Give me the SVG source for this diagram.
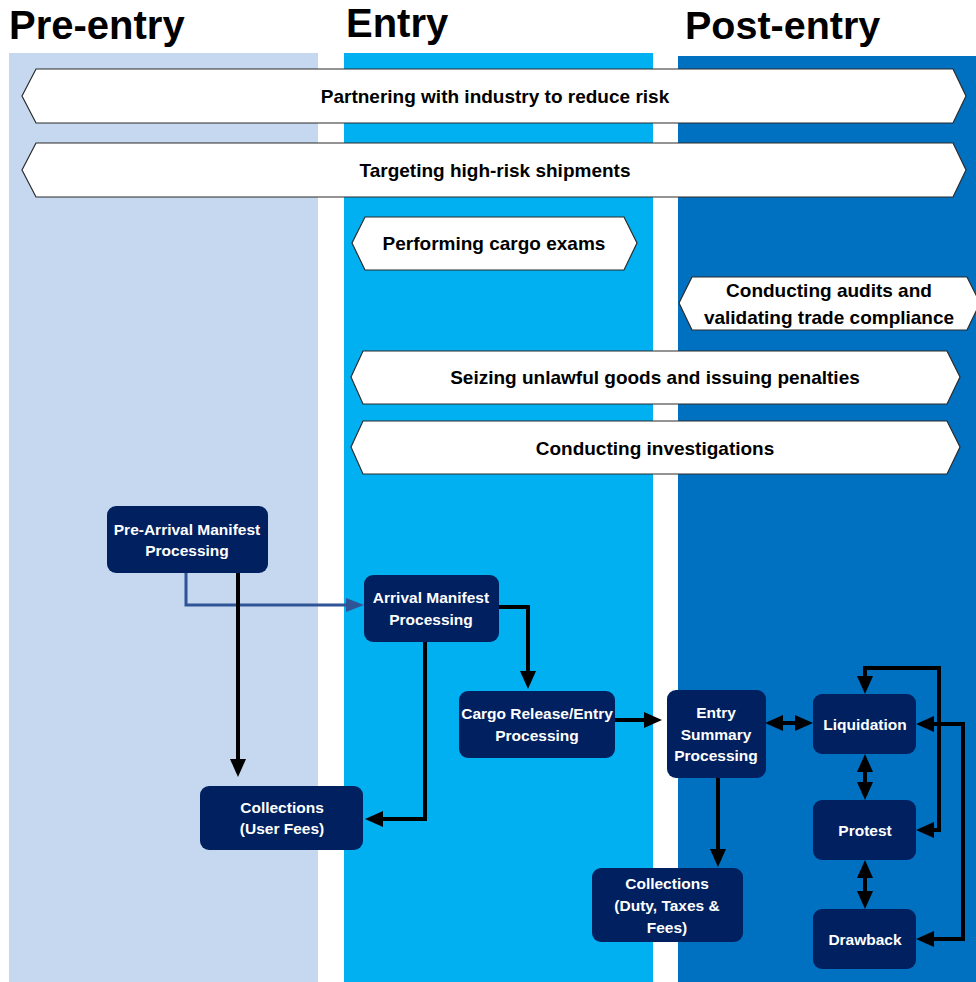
<svg xmlns="http://www.w3.org/2000/svg" width="976" height="982" viewBox="0 0 976 982">
  <style>
    .title { font-family: "Liberation Sans", Arial, sans-serif; font-weight: bold; font-size: 40px; fill: #000; }
    .band { fill: #fff; stroke: #2b2b2b; stroke-width: 1.2; }
    .band-text { font-family: "Liberation Sans", Arial, sans-serif; font-weight: bold; font-size: 19px; fill: #000; text-anchor: middle; dominant-baseline: central; }
    .node rect { fill: #002060; }
    .node text { font-family: "Liberation Sans", Arial, sans-serif; font-weight: bold; font-size: 15.5px; fill: #fff; text-anchor: middle; dominant-baseline: central; }
    .conn { fill: none; stroke: #000; stroke-width: 4; stroke-linejoin: miter; }
    .conn-blue { fill: none; stroke: #2F5597; stroke-width: 3; }
  </style>
  <defs>
    <marker id="arrow" viewBox="0 0 18 16" markerUnits="userSpaceOnUse" markerWidth="18" markerHeight="16" refX="8" refY="8" orient="auto-start-reverse">
      <path d="M0,0 L18,8 L0,16 z" fill="#000"/>
    </marker>
    <marker id="arrow-blue" viewBox="0 0 18 14" markerUnits="userSpaceOnUse" markerWidth="18" markerHeight="14" refX="8" refY="7" orient="auto">
      <path d="M0,0 L18,7 L0,14 z" fill="#2F5597"/>
    </marker>
  </defs>

  <!-- swimlanes -->
  <g id="lanes">
    <rect x="9" y="53" width="309" height="929" fill="#C5D8EF"/>
    <rect x="344" y="53" width="309" height="929" fill="#00B0F0"/>
    <rect x="678" y="56" width="298" height="926" fill="#0070C0"/>
  </g>

  <g id="titles">
    <text class="title" x="9" y="39">Pre-entry</text>
    <text class="title" x="346" y="37">Entry</text>
    <text class="title" x="685" y="39" style="font-size:39.5px">Post-entry</text>
  </g>

  <!-- activity bands -->
  <g id="band-partnering">
    <polygon class="band" points="36,69 953,69 966,96 953,123 36,123 22,96"/>
    <text class="band-text" x="495" y="96">Partnering with industry to reduce risk</text>
  </g>
  <g id="band-targeting">
    <polygon class="band" points="36,143 953,143 966,170 953,197 36,197 22,170"/>
    <text class="band-text" x="495" y="170">Targeting high-risk shipments</text>
  </g>
  <g id="band-exams">
    <polygon class="band" points="365,217 624,217 637,243 624,270 365,270 352,243"/>
    <text class="band-text" x="494" y="243">Performing cargo exams</text>
  </g>
  <g id="band-audits">
    <polygon class="band" points="692,277 967,277 980,303 967,330 692,330 679,303"/>
    <text class="band-text" x="829" y="290">Conducting audits and</text>
    <text class="band-text" x="829" y="317">validating trade compliance</text>
  </g>
  <g id="band-seizing">
    <polygon class="band" points="363,351 947,351 960,377 947,404 363,404 351,377"/>
    <text class="band-text" x="655" y="377">Seizing unlawful goods and issuing penalties</text>
  </g>
  <g id="band-investigations">
    <polygon class="band" points="363,421 947,421 960,447 947,474 363,474 351,447"/>
    <text class="band-text" x="655" y="448">Conducting investigations</text>
  </g>

  <!-- connectors -->
  <g id="connectors">
    <path class="conn-blue" d="M186,573 V605 H354" marker-end="url(#arrow-blue)"/>
    <path class="conn" d="M238,573 V767" marker-end="url(#arrow)"/>
    <path class="conn" d="M425,642 V819 H375" marker-end="url(#arrow)"/>
    <path class="conn" d="M499,607 H528 V679" marker-end="url(#arrow)"/>
    <path class="conn" d="M615,720 H652" marker-end="url(#arrow)"/>
    <path class="conn" d="M775,723 H803" marker-start="url(#arrow)" marker-end="url(#arrow)"/>
    <path class="conn" d="M865,764 V790" marker-start="url(#arrow)" marker-end="url(#arrow)"/>
    <path class="conn" d="M865,870 V899" marker-start="url(#arrow)" marker-end="url(#arrow)"/>
    <path class="conn" d="M718,778 V857" marker-end="url(#arrow)"/>
    <path class="conn" d="M926,830 H939 V668 H865 V684" marker-start="url(#arrow)" marker-end="url(#arrow)"/>
    <path class="conn" d="M926,724 H963 V939 H926" marker-start="url(#arrow)" marker-end="url(#arrow)"/>
  </g>

  <!-- process nodes -->
  <g id="pre-arrival" class="node">
    <rect x="107" y="506" width="161" height="67" rx="9"/>
    <text x="187" y="529">Pre-Arrival Manifest</text>
    <text x="187" y="550">Processing</text>
  </g>
  <g id="arrival" class="node">
    <rect x="364" y="575" width="135" height="67" rx="9"/>
    <text x="431" y="597">Arrival Manifest</text>
    <text x="431" y="619">Processing</text>
  </g>
  <g id="collections-user-fees" class="node">
    <rect x="200" y="786" width="163" height="64" rx="9"/>
    <text x="282" y="807">Collections</text>
    <text x="282" y="828">(User Fees)</text>
  </g>
  <g id="cargo-release" class="node">
    <rect x="459" y="691" width="156" height="67" rx="9"/>
    <text x="537" y="713">Cargo Release/Entry</text>
    <text x="537" y="735">Processing</text>
  </g>
  <g id="entry-summary" class="node">
    <rect x="667" y="690" width="99" height="88" rx="9"/>
    <text x="716" y="712">Entry</text>
    <text x="716" y="734">Summary</text>
    <text x="716" y="755">Processing</text>
  </g>
  <g id="collections-duty" class="node">
    <rect x="592" y="868" width="151" height="74" rx="9"/>
    <text x="667" y="883">Collections</text>
    <text x="667" y="905">(Duty, Taxes &amp;</text>
    <text x="667" y="927">Fees)</text>
  </g>
  <g id="liquidation" class="node">
    <rect x="813" y="694" width="103" height="60" rx="9"/>
    <text x="865" y="724">Liquidation</text>
  </g>
  <g id="protest" class="node">
    <rect x="813" y="800" width="103" height="60" rx="9"/>
    <text x="865" y="830">Protest</text>
  </g>
  <g id="drawback" class="node">
    <rect x="813" y="909" width="103" height="60" rx="9"/>
    <text x="865" y="939">Drawback</text>
  </g>
</svg>
